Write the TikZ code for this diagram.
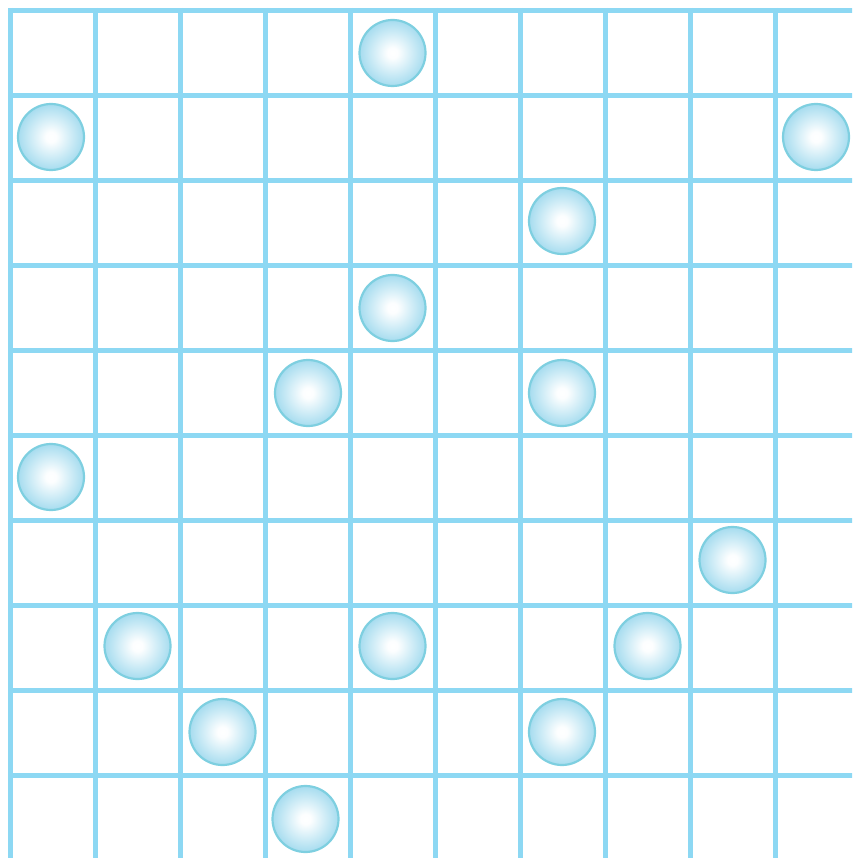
\documentclass[tikz,border=0pt]{standalone}
\definecolor{gridblue}{HTML}{8DD8F3}
\definecolor{ballrim}{HTML}{7ECFE0}
\definecolor{ballout}{HTML}{A6DCEF}
\pgfdeclareradialshading{ballshade}{\pgfpoint{0bp}{0bp}}{%
  color(0bp)=(white); color(4bp)=(white!97!ballout); color(25bp)=(ballout); color(50bp)=(ballout)}
\tikzset{
  gridline/.style={draw=gridblue, line width=5pt},
  ball/.style={circle, minimum size=66pt, inner sep=0pt, draw=ballrim, line width=2.2pt,
    shading=ballshade}
}
\begin{document}
\begin{tikzpicture}[x=1pt,y=-1pt]
\useasboundingbox (0,0) rectangle (852,858);
\clip (0,0) rectangle (852,858);
\foreach \k in {0,...,10} {
  \draw[gridline] (10.5+85*\k,8) -- (10.5+85*\k,870);
  \draw[gridline] (8,10.5+85*\k) -- (870,10.5+85*\k);
}
\node[ball] (b1) at (392.5,53) {};
\node[ball] (b2) at (51,137) {};
\node[ball] (b3) at (816,137) {};
\node[ball] (b4) at (562,221) {};
\node[ball] (b5) at (392.5,308) {};
\node[ball] (b6) at (308,393) {};
\node[ball] (b7) at (562,393) {};
\node[ball] (b8) at (51,477) {};
\node[ball] (b9) at (732.5,560) {};
\node[ball] (b10) at (137.5,646) {};
\node[ball] (b11) at (392.5,646) {};
\node[ball] (b12) at (647.5,646) {};
\node[ball] (b13) at (222.5,732) {};
\node[ball] (b14) at (562,732) {};
\node[ball] (b15) at (305.5,819) {};
\end{tikzpicture}
\end{document}
